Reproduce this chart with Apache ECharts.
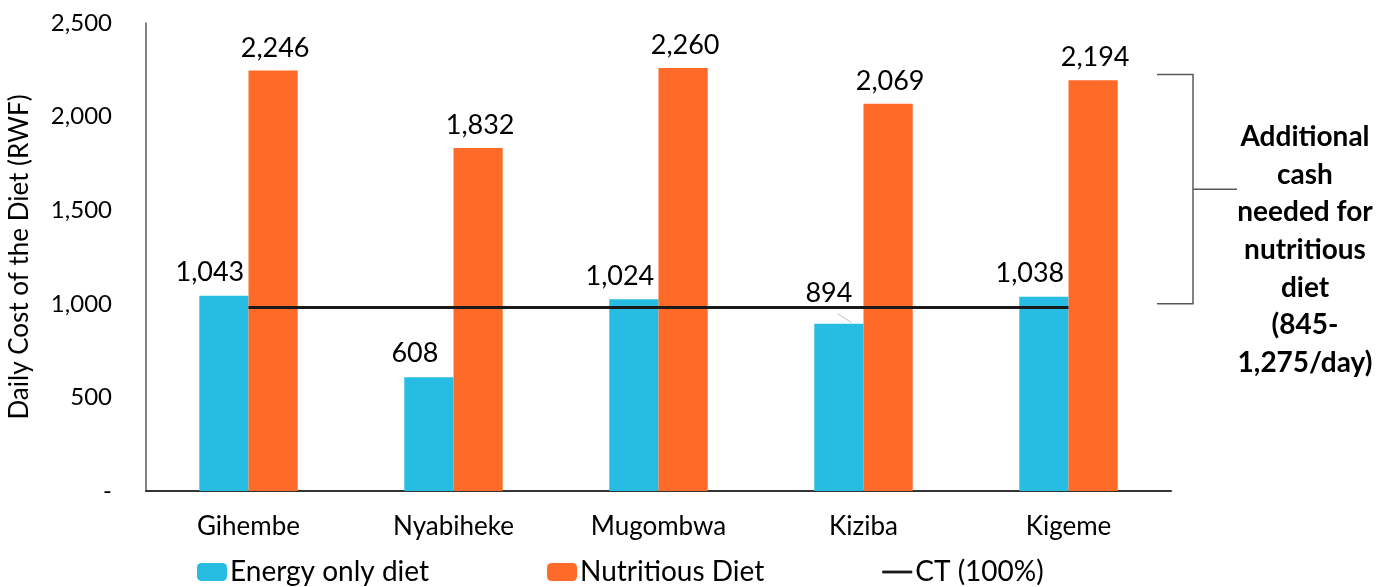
<!DOCTYPE html>
<html>
<head>
<meta charset="utf-8">
<script src="https://cdn.jsdelivr.net/npm/echarts@6/dist/echarts.min.js"></script>
<style>
  html, body { margin: 0; padding: 0; background: #fff; }
  #chart { width: 1395px; height: 587px; }
</style>
</head>
<body>
<div id="chart"></div>
<script>
const camps = ['Gihembe', 'Nyabiheke', 'Mugombwa', 'Kiziba', 'Kigeme'];
const energyOnly = [1043, 608, 1024, 894, 1038];
const nutritious = [2246, 1832, 2260, 2069, 2194];
const ctLevel = [980, 980, 980, 980, 980];
const bracketRange = [1000, 2225];
const yTicks = [0, 500, 1000, 1500, 2000, 2500];

const FONT = 'Lato, "Open Sans", sans-serif';
const fmt = v => v === 0 ? '-' : v.toLocaleString('en-US');

// the Kiziba label sits a little higher, above the CT line, with a leader line
const LIFTED = 3;

const chart = echarts.init(document.getElementById('chart'));

const option = {
    animation: false,
    textStyle: { fontFamily: FONT, color: '#000' },
    grid: { left: 146, right: 224, top: 23, bottom: 96, outerBoundsMode: 'none' },
    legend: {
        bottom: -4,
        left: 192,
        itemGap: 118,
        itemWidth: 30,
        itemHeight: 18,
        textStyle: { fontSize: 28, fontFamily: FONT, color: '#000', padding: [0, 0, 0, -2] },
        data: [
            'Energy only diet',
            'Nutritious Diet',
            { name: 'CT (100%)', icon: 'path://M0,0 L32,0 L32,3 L0,3 Z' }
        ]
    },
    xAxis: {
        type: 'category',
        data: camps,
        axisTick: { show: false },
        axisLine: { lineStyle: { color: '#333', width: 2 } },
        axisLabel: { fontSize: 26, fontFamily: FONT, margin: 23, color: '#000' }
    },
    yAxis: {
        type: 'value',
        min: yTicks[0],
        max: yTicks[yTicks.length - 1],
        interval: 500,
        name: 'Daily Cost of the Diet (RWF)',
        nameLocation: 'middle',
        nameRotate: 90,
        nameGap: 113,
        nameTextStyle: { fontSize: 26, fontFamily: FONT, color: '#000' },
        splitLine: { show: false },
        axisTick: { show: false },
        axisLine: { show: true, lineStyle: { color: '#595959', width: 1.5 } },
        axisLabel: { fontSize: 24, margin: 34, color: '#000', formatter: fmt }
    },
    series: [
        {
            name: 'Energy only diet',
            type: 'bar',
            data: energyOnly.map((v, i) => i === LIFTED
                ? { value: v, label: { distance: 17, offset: [-10, 0] } }
                : v),
            barGap: '0%',
            barCategoryGap: '52%',
            itemStyle: { color: '#27BDE2' },
            label: {
                show: true, position: 'top', distance: 10, offset: [-14, 0],
                fontSize: 27, color: '#000', formatter: p => fmt(p.value)
            }
        },
        {
            name: 'Nutritious Diet',
            type: 'bar',
            data: nutritious,
            itemStyle: { color: '#FE6A28' },
            label: {
                show: true, position: 'top', distance: 9, offset: [2, 0],
                fontSize: 27, color: '#000', formatter: p => fmt(p.value)
            }
        },
        {
            name: 'CT (100%)',
            type: 'line',
            data: ctLevel,
            symbol: 'none',
            z: 5,
            itemStyle: { color: '#1a1a1a' },
            lineStyle: { color: '#1a1a1a', width: 3 }
        }
    ]
};

chart.setOption(option);

// bracket and note on the right
const yTop = chart.convertToPixel({ yAxisIndex: 0 }, bracketRange[1]);
const yBot = chart.convertToPixel({ yAxisIndex: 0 }, bracketRange[0]);
const yMid = (yTop + yBot) / 2;
const bx0 = 1157, bx1 = 1193, bx2 = 1237;
const bracketStyle = { stroke: '#595959', lineWidth: 1.5 };

// leader line for the lifted label
const barTop = chart.convertToPixel({ seriesIndex: 0 }, [LIFTED, energyOnly[LIFTED]]);
const lx = barTop[0] - 12, ly = barTop[1];

chart.setOption({
    graphic: [
        { type: 'polyline', shape: { points: [[bx0, yTop], [bx1, yTop], [bx1, yBot], [bx0, yBot]] }, style: bracketStyle },
        { type: 'line', shape: { x1: bx1, y1: yMid, x2: bx2, y2: yMid }, style: bracketStyle },
        { type: 'line', shape: { x1: lx - 14, y1: ly - 10, x2: lx, y2: ly - 1 }, style: { stroke: '#bfbfbf', lineWidth: 1 } },
        {
            type: 'text', x: 1305, y: 118,
            style: {
                text: 'Additional\ncash\nneeded for\nnutritious\ndiet\n(845-\n1,275/day)',
                fontFamily: FONT, fontSize: 28, fontWeight: 'bold', fill: '#000',
                align: 'center', verticalAlign: 'top', lineHeight: 37.7
            }
        }
    ]
});
</script>
</body>
</html>
